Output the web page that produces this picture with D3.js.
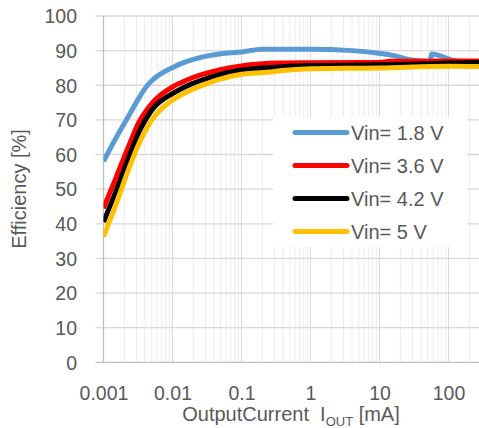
<!DOCTYPE html>
<html>
<head>
<meta charset="utf-8">
<script src="https://cdn.jsdelivr.net/npm/d3@7"></script>
<style>
  html, body { margin: 0; padding: 0; background: #fff; }
  svg { display: block; }
  text { font-family: "Liberation Sans", Arial, sans-serif; fill: #595959; }
</style>
</head>
<body>
<svg id="chart" width="479" height="428"></svg>
<script>
// ---- data ----
const seriesNames = ["Vin= 1.8 V", "Vin= 3.6 V", "Vin= 4.2 V", "Vin= 5 V"];
const seriesColors = ["#5B9BD5", "#FF0000", "#000000", "#FFC000"];

const current18 = [0.001, 0.00147, 0.00229, 0.00319, 0.004, 0.005, 0.007, 0.01, 0.0128, 0.019, 0.031, 0.05, 0.1, 0.2, 1, 4, 10, 14, 30, 54, 57, 116, 200, 300];
const eff18     = [58,    64.3,    71.0,    76.0,    79.1,  81.3,  83.5,  85.1, 86.1,   87.3,  88.4,  89.1, 89.6, 90.4, 90.4, 90, 89.2, 88.8, 87.3, 86.8, 89, 87.2, 86.5, 85.3];

const current36 = [0.001, 0.00147, 0.00229, 0.00319, 0.005, 0.01, 0.0128, 0.019, 0.025, 0.049, 0.1, 0.36, 1, 10, 14, 100, 300];
const eff36     = [44.5,  52.6,    62.2,    68.9,    74.7,  79.5, 80.6,   82.1,  82.9,  84.5,  85.6, 86.4, 86.5, 86.6, 86.9, 87, 87];

const current42 = [0.001, 0.00147, 0.00229, 0.00319, 0.005, 0.01, 0.0128, 0.019, 0.025, 0.049, 0.1, 0.36, 1, 10, 100, 300];
const eff42     = [40.5,  48.7,    58.8,    66,      72.8,  77.6, 78.8,   80.4,  81.3,  83.1,  84.4, 85.3, 85.7, 85.9, 86.4, 86.6];

const current50 = [0.001, 0.00147, 0.00229, 0.00319, 0.005, 0.01, 0.0128, 0.019, 0.025, 0.049, 0.1, 0.25, 0.36, 1, 10, 100, 300];
const eff50     = [36.3,  44.9,    55.5,    62.7,    69.9,  75.7, 77.0,   78.7,  79.7,  81.8,  83.2, 83.8, 84.2, 84.8, 85, 85.5, 85.4];

const xTickValues = [0.001, 0.01, 0.1, 1, 10, 100];
const xTickLabels = ["0.001", "0.01", "0.1", "1", "10", "100"];
const yTickValues = [0, 10, 20, 30, 40, 50, 60, 70, 80, 90, 100];

// ---- layout ----
const svg = d3.select("#chart");
const plot = { left: 103.5, right: 481.4, top: 16, bottom: 362.3 };

const x = d3.scaleLog().domain([0.001, 300]).range([plot.left, plot.right]);
const y = d3.scaleLinear().domain([0, 100]).range([plot.bottom, plot.top]);

// minor vertical gridlines
const minorX = [];
[0.001, 0.01, 0.1, 1, 10, 100].forEach(d => {
  for (let k = 2; k <= 9; k++) { const v = k * d; if (v < 300) minorX.push(v); }
});
svg.append("g").selectAll("line").data(minorX).join("line")
  .attr("x1", d => x(d)).attr("x2", d => x(d))
  .attr("y1", plot.top).attr("y2", plot.bottom)
  .attr("stroke", "#ececec").attr("stroke-width", 1);

// major vertical gridlines
svg.append("g").selectAll("line").data(xTickValues.slice(1)).join("line")
  .attr("x1", d => x(d)).attr("x2", d => x(d))
  .attr("y1", plot.top).attr("y2", plot.bottom)
  .attr("stroke", "#d9d9d9").attr("stroke-width", 1);

// horizontal gridlines (with outward ticks)
svg.append("g").selectAll("line").data(yTickValues.slice(1)).join("line")
  .attr("x1", plot.left - 8).attr("x2", 479)
  .attr("y1", d => y(d)).attr("y2", d => y(d))
  .attr("stroke", "#d9d9d9").attr("stroke-width", 1.3);

// axes lines
svg.append("line").attr("x1", plot.left).attr("x2", plot.left)
  .attr("y1", plot.top).attr("y2", plot.bottom)
  .attr("stroke", "#bfbfbf").attr("stroke-width", 1.3);
svg.append("line").attr("x1", plot.left - 8).attr("x2", 479)
  .attr("y1", plot.bottom).attr("y2", plot.bottom)
  .attr("stroke", "#bfbfbf").attr("stroke-width", 1.3);

// y axis labels
const yAxis = d3.axisLeft(y).tickValues(yTickValues).tickSize(0).tickPadding(0);
const gy = svg.append("g").attr("transform", `translate(77,0)`).call(yAxis);
gy.select(".domain").remove();
gy.selectAll("text").attr("font-size", "19.5px").attr("fill", "#595959")
  .attr("font-family", '"Liberation Sans", Arial, sans-serif').attr("dy", "0.35em").attr("x", 0);

// x axis labels
const xAxis = d3.axisBottom(x).tickValues(xTickValues).tickSize(0)
  .tickFormat((d, i) => xTickLabels[i]);
const gx = svg.append("g").attr("transform", `translate(0,0)`).call(xAxis);
gx.select(".domain").remove();
gx.selectAll("text").attr("font-size", "19.5px").attr("fill", "#595959")
  .attr("font-family", '"Liberation Sans", Arial, sans-serif').attr("y", 400).attr("dy", 0);

// series
const allSeries = [
  { name: seriesNames[0], color: seriesColors[0], xs: current18, ys: eff18 },
  { name: seriesNames[1], color: seriesColors[1], xs: current36, ys: eff36 },
  { name: seriesNames[2], color: seriesColors[2], xs: current42, ys: eff42 },
  { name: seriesNames[3], color: seriesColors[3], xs: current50, ys: eff50 }
];
const line = d3.line().x(d => x(d[0])).y(d => y(d[1])).curve(d3.curveMonotoneX);
svg.append("clipPath").attr("id", "clip").append("rect")
  .attr("x", plot.left).attr("y", 0).attr("width", 479 - plot.left).attr("height", plot.bottom);
const gLines = svg.append("g").attr("clip-path", "url(#clip)");
allSeries.forEach(s => {
  gLines.append("path")
    .datum(s.xs.map((v, i) => [v, s.ys[i]]))
    .attr("d", line)
    .attr("fill", "none")
    .attr("stroke", s.color)
    .attr("stroke-width", 5)
    .attr("stroke-linejoin", "round");
});

// legend
const lg = svg.append("g");
lg.append("rect").attr("x", 273).attr("y", 117).attr("width", 194).attr("height", 130).attr("fill", "#fff");
allSeries.forEach((s, i) => {
  const cy = 132.5 + i * 33;
  lg.append("line").attr("x1", 295).attr("x2", 347).attr("y1", cy).attr("y2", cy)
    .attr("stroke", s.color).attr("stroke-width", 5).attr("stroke-linecap", "round");
  lg.append("text").attr("x", 351).attr("y", cy + 7).attr("font-size", "20px").text(s.name);
});

// axis titles
const xt = svg.append("text").attr("x", 291).attr("y", 421).attr("text-anchor", "middle").attr("font-size", "20px");
xt.append("tspan").text("OutputCurrent\u00a0\u00a0I");
xt.append("tspan").attr("font-size", "13px").attr("dy", 5).text("OUT");
xt.append("tspan").attr("dy", -5).text(" [mA]");

svg.append("text").attr("transform", "translate(26,189) rotate(-90)")
  .attr("text-anchor", "middle").attr("font-size", "20px").text("Efficiency [%]");
</script>
</body>
</html>
